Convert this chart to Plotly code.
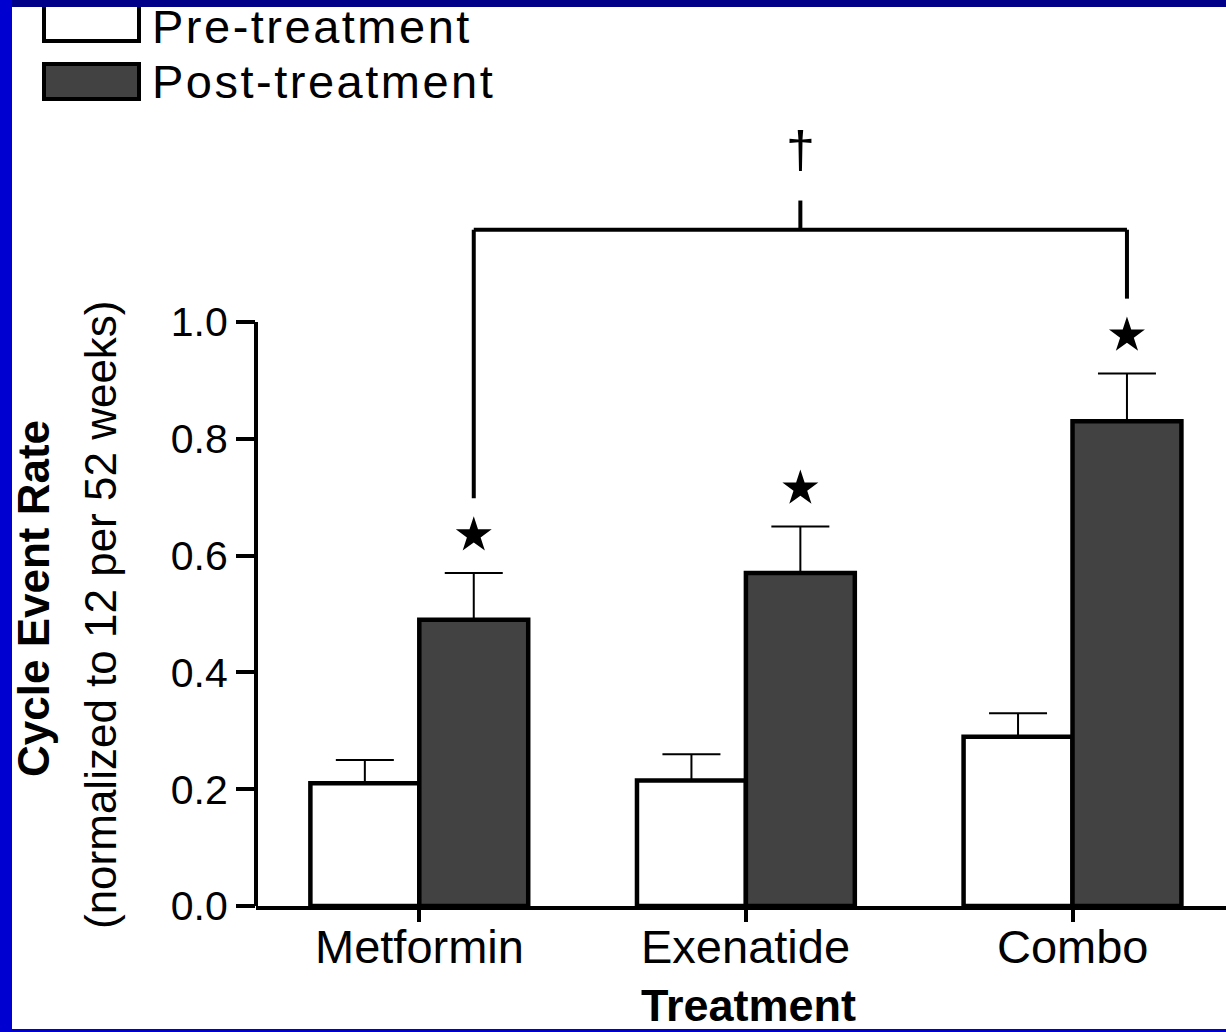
import plotly.graph_objects as go

# ---- data ----
treatments = ["Metformin", "Exenatide", "Combo"]
pre_rate = [0.21, 0.215, 0.29]
pre_sem = [0.04, 0.045, 0.04]
post_rate = [0.49, 0.57, 0.83]
post_sem = [0.08, 0.08, 0.082]
y_ticks = [0.0, 0.2, 0.4, 0.6, 0.8, 1.0]
star_gap = 0.065          # gap between error-bar cap and significance star
bracket_level = 1.158     # height of the between-group comparison bracket
bracket_leg_gap = 0.063   # bracket legs stop this far above the stars
bracket_stem = 0.05
dagger_level = 1.295

# ---- figure geometry (pixels) ----
W, H = 1226, 1032
ML, MR, MT, MB = 256, 0, 20, 126
PW, PH = W - ML - MR, H - MT - MB
Y_MAX = PH / 584.0
FONT = "Liberation Sans"


def px(x):
    return (x - ML) / PW


def py(y):
    return (H - MB - y) / PH


idx = list(range(len(treatments)))
half = (1 - 0.333) / 4  # offset of each bar centre from its category centre

fig = go.Figure()
fig.add_bar(
    x=idx, y=pre_rate, name="Pre-treatment", offsetgroup="pre",
    marker=dict(color="white", line=dict(color="black", width=4.5)),
    error_y=dict(type="data", symmetric=False, array=pre_sem,
                 arrayminus=[0] * len(pre_sem), color="black",
                 thickness=2, width=29),
)
fig.add_bar(
    x=idx, y=post_rate, name="Post-treatment", offsetgroup="post",
    marker=dict(color="#424242", line=dict(color="black", width=4.5)),
    error_y=dict(type="data", symmetric=False, array=post_sem,
                 arrayminus=[0] * len(post_sem), color="black",
                 thickness=2, width=29),
)

# significance stars above each post-treatment bar
star_x = [i + half for i in idx]
star_y = [v + e + star_gap for v, e in zip(post_rate, post_sem)]
fig.add_scatter(x=star_x, y=star_y, mode="markers",
                marker=dict(symbol="star", size=27, color="black"),
                showlegend=False, cliponaxis=False)

shapes = []
line_k = dict(color="black", width=4)

# y axis line from 0 to 1 only
shapes.append(dict(type="line", xref="paper", yref="y", x0=0, x1=0,
                   y0=0, y1=y_ticks[-1], line=line_k))

# bracket comparing Metformin and Combo
x_left, x_right = star_x[0], star_x[2]
x_mid = (x_left + x_right) / 2
shapes.append(dict(type="line", xref="x", yref="y", x0=x_left, x1=x_left,
                   y0=star_y[0] + bracket_leg_gap, y1=bracket_level, line=line_k))
shapes.append(dict(type="line", xref="x", yref="y", x0=x_left, x1=x_right,
                   y0=bracket_level, y1=bracket_level, line=line_k))
shapes.append(dict(type="line", xref="x", yref="y", x0=x_right, x1=x_right,
                   y0=star_y[2] + bracket_leg_gap, y1=bracket_level, line=line_k))
shapes.append(dict(type="line", xref="x", yref="y", x0=x_mid, x1=x_mid,
                   y0=bracket_level, y1=bracket_level + bracket_stem, line=line_k))

# legend swatches
shapes.append(dict(type="rect", xref="paper", yref="paper",
                   x0=px(44), x1=px(139), y0=py(5), y1=py(41),
                   fillcolor="white", line=dict(color="black", width=4)))
shapes.append(dict(type="rect", xref="paper", yref="paper",
                   x0=px(44), x1=px(139), y0=py(64), y1=py(99),
                   fillcolor="#424242", line=dict(color="black", width=4)))

# blue slide frame
shapes.append(dict(type="rect", xref="paper", yref="paper", layer="above",
                   x0=px(0), x1=px(W), y0=py(0), y1=py(7),
                   fillcolor="#000088", line=dict(width=0)))
shapes.append(dict(type="rect", xref="paper", yref="paper", layer="above",
                   x0=px(0), x1=px(12), y0=py(0), y1=py(H),
                   fillcolor="#0000D0", line=dict(width=0)))
shapes.append(dict(type="rect", xref="paper", yref="paper", layer="above",
                   x0=px(0), x1=px(W), y0=py(1029), y1=py(H),
                   fillcolor="#0000D0", line=dict(width=0)))

spaced = '<span style="letter-spacing:2.5px">{}</span>'
annotations = [
    dict(text=spaced.format("Pre-treatment"), xref="paper", yref="paper",
         x=px(150), y=py(26), xanchor="left", yanchor="middle", showarrow=False,
         font=dict(family=FONT, size=47, color="black")),
    dict(text=spaced.format("Post-treatment"), xref="paper", yref="paper",
         x=px(150), y=py(82), xanchor="left", yanchor="middle", showarrow=False,
         font=dict(family=FONT, size=47, color="black")),
    dict(text="†", xref="x", yref="y", x=x_mid, y=dagger_level,
         xanchor="center", yanchor="middle", showarrow=False,
         font=dict(family=FONT, size=52, color="black")),
    dict(text="<b>Cycle Event Rate</b>", xref="paper", yref="paper",
         x=px(33), y=py(599), xanchor="center", yanchor="middle",
         textangle=-90, showarrow=False,
         font=dict(family=FONT, size=44, color="black")),
    dict(text="(normalized to 12 per 52 weeks)", xref="paper", yref="paper",
         x=px(100), y=py(615), xanchor="center", yanchor="middle",
         textangle=-90, showarrow=False,
         font=dict(family=FONT, size=44, color="black")),
    dict(text="<b>Treatment</b>", xref="paper", yref="paper",
         x=px(748), y=py(1005), xanchor="center", yanchor="middle",
         showarrow=False,
         font=dict(family=FONT, size=45, color="black")),
]

# category labels under the x axis ticks
for i, name in zip(idx, treatments):
    annotations.append(dict(
        text=name, xref="x", yref="paper", x=i, y=py(946),
        xanchor="center", yanchor="middle", showarrow=False,
        font=dict(family=FONT, size=47, color="black")))

fig.update_layout(
    width=W, height=H,
    margin=dict(l=ML, r=MR, t=MT, b=MB, pad=0),
    paper_bgcolor="white", plot_bgcolor="white",
    barmode="group", bargap=0.333, bargroupgap=0,
    showlegend=False,
    shapes=shapes, annotations=annotations,
    xaxis=dict(range=[-0.5, 2.47], tickvals=idx, ticktext=treatments,
               showticklabels=False,
               showgrid=False, zeroline=False, showline=True,
               linecolor="black", linewidth=4,
               ticks="outside", ticklen=12, tickwidth=3.5, tickcolor="black"),
    yaxis=dict(range=[0, Y_MAX], tickvals=y_ticks,
               ticktext=[f"{v:.1f}" for v in y_ticks],
               showgrid=False, zeroline=False, showline=False,
               ticks="outside", ticklen=19, tickwidth=3.5, tickcolor="black",
               tickfont=dict(family=FONT, size=41, color="black")),
)

fig.write_html("out.html")
